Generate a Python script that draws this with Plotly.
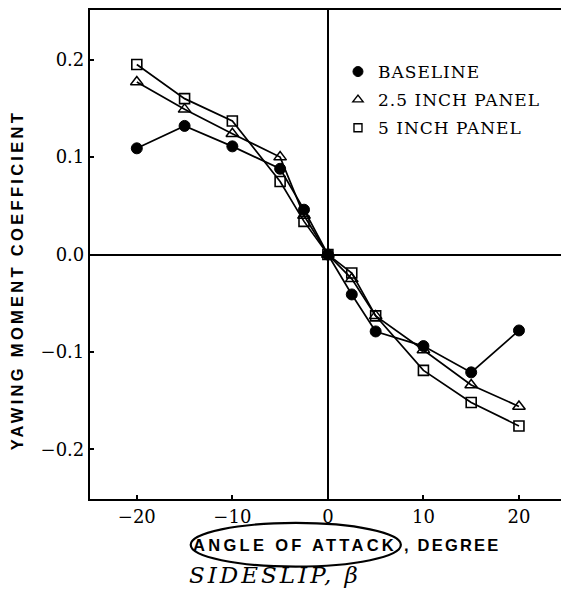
import plotly.graph_objects as go

# Sideslip angle (degrees)
beta = [-20, -15, -10, -5, -2.5, 0, 2.5, 5, 10, 15, 20]

# Yawing moment coefficient
baseline = [0.109, 0.132, 0.111, 0.088, 0.046, 0.0, -0.041, -0.079, -0.094, -0.121, -0.078]
panel_25 = [0.177, 0.149, 0.124, 0.100, 0.040, 0.0, -0.025, -0.063, -0.098, -0.134, -0.156]
panel_5 = [0.195, 0.160, 0.137, 0.075, 0.034, 0.0, -0.019, -0.063, -0.119, -0.152, -0.176]

series_names = ["BASELINE", "2.5 INCH PANEL", "5 INCH PANEL"]

x_ticks = [-20, -10, 0, 10, 20]
x_tick_labels = ["\u221220", "\u221210", "0", "10", "20"]
y_ticks = [-0.2, -0.1, 0.0, 0.1, 0.2]
y_tick_labels = ["\u22120.2", "\u22120.1", "0.0", "0.1", "0.2"]

serif = "DejaVu Serif"
sans = "Liberation Sans"

fig = go.Figure()

styles = [
    dict(symbol="circle", size=11, color="black", line=dict(color="black", width=1)),
    dict(symbol="triangle-up-open", size=11, color="black", line=dict(color="black", width=1.5)),
    dict(symbol="square-open", size=10, color="black", line=dict(color="black", width=1.6)),
]
for name, ys, st in zip(series_names, [baseline, panel_25, panel_5], styles):
    fig.add_trace(go.Scatter(
        x=beta, y=ys, mode="lines+markers", name=name, showlegend=False,
        line=dict(color="black", width=1.7),
        marker=st,
    ))

# legend-only entries (marker only)
leg_styles = [
    dict(symbol="circle", size=10, color="black", line=dict(color="black", width=1)),
    dict(symbol="triangle-up-open", size=9, color="black", line=dict(color="black", width=1.4)),
    dict(symbol="square-open", size=8, color="black", line=dict(color="black", width=1.4)),
]
for i, (name, st) in enumerate(zip(series_names, leg_styles)):
    fig.add_trace(go.Scatter(
        x=[None], y=[None], mode="markers", showlegend=True,
        name='<span style="letter-spacing:1px">%s</span>' % name,
        legendgroup="g%d" % i, marker=st,
    ))

fig.update_layout(
    width=561, height=592,
    margin=dict(l=90, r=0, t=10, b=93),
    paper_bgcolor="white", plot_bgcolor="white",
    font=dict(family=serif, color="black", size=18),
    showlegend=True,
    legend=dict(
        x=0.5265, y=0.91, xanchor="left", yanchor="top",
        bgcolor="rgba(0,0,0,0)", font=dict(family=serif, size=17, color="black"),
        itemwidth=30, tracegroupgap=3,
    ),
    xaxis=dict(
        range=[-24.9, 24.4], tickvals=x_ticks, ticktext=x_tick_labels,
        showgrid=False, zeroline=True, zerolinecolor="black", zerolinewidth=2,
        showline=True, linecolor="black", linewidth=2.2, mirror=True,
        ticks="inside", ticklen=4, tickwidth=1.5, tickcolor="black",
        tickfont=dict(family=serif, size=18, color="black"),
    ),
    yaxis=dict(
        range=[-0.251, 0.251], tickvals=y_ticks, ticktext=y_tick_labels,
        showgrid=False, zeroline=True, zerolinecolor="black", zerolinewidth=2,
        showline=True, linecolor="black", linewidth=2.2, mirror=False,
        ticks="inside", ticklen=4, tickwidth=1.5, tickcolor="black",
        tickfont=dict(family=serif, size=18, color="black"),
    ),
)

title_font = dict(family=sans, size=16.5, color="black", weight="bold")

# y-axis title
fig.add_annotation(
    xref="paper", yref="paper", x=-0.1543, y=0.448, xanchor="center", yanchor="middle",
    textangle=-90, showarrow=False, font=title_font,
    text='<span style="letter-spacing:3.3px">YAWING MOMENT COEFFICIENT</span>',
)

# x-axis caption
fig.add_annotation(
    xref="paper", yref="paper", x=0.435, y=-0.094, xanchor="center", yanchor="middle",
    text='<span style="letter-spacing:3.3px">ANGLE OF ATTACK</span>',
    showarrow=False, font=title_font,
)
fig.add_annotation(
    xref="paper", yref="paper", x=0.6624, y=-0.094, xanchor="left", yanchor="middle",
    text='<span style="letter-spacing:2.2px">, DEGREE</span>',
    showarrow=False, font=title_font,
)
fig.add_annotation(
    xref="paper", yref="paper", x=0.3928, y=-0.1554, xanchor="center", yanchor="middle",
    text='<span style="letter-spacing:3px">SIDESLIP, \u03b2</span>',
    showarrow=False, font=dict(family=serif, size=23, color="black", style="italic"),
)
# hand-drawn oval around "ANGLE OF ATTACK"
fig.add_shape(
    type="circle", xref="paper", yref="paper",
    x0=0.2138, x1=0.660, y0=-0.1384, y1=-0.049,
    line=dict(color="black", width=2.2),
)

fig.write_html(
    "out.html",
    config={"displayModeBar": False},
    post_script="document.body.style.margin='0';document.body.style.overflow='hidden';",
)
